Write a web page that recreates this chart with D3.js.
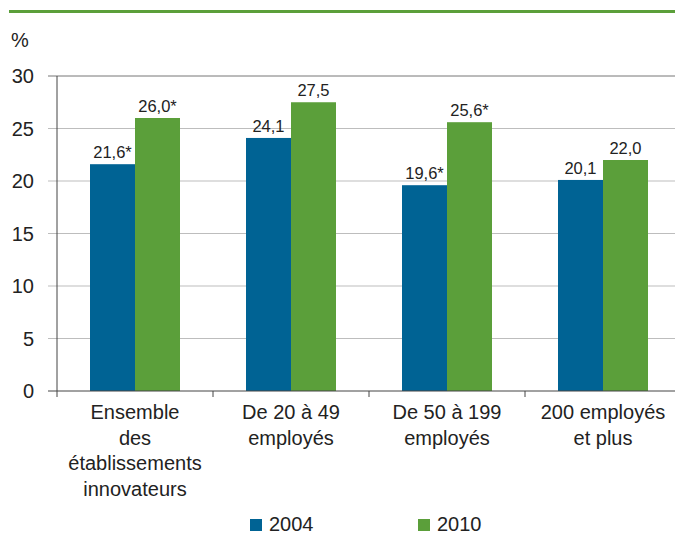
<!DOCTYPE html>
<meta charset="utf-8">
<html>
<head>
    <title>Etablissements innovateurs</title>
</head>
<style type="text/css">
    body{ margin: 0; background: #fff; }
    text{
        font-family: "Liberation Sans", Helvetica, Arial, sans-serif;
        fill: #222;
    }
</style>
<script src="https://cdn.jsdelivr.net/npm/d3@7"></script>
<body>

<script type="text/javascript">
var categories = [
    ["Ensemble", "des", "établissements", "innovateurs"],
    ["De 20 à 49", "employés"],
    ["De 50 à 199", "employés"],
    ["200 employés", "et plus"]
]
var series = ["2004", "2010"]
var values2004 = [21.6, 24.1, 19.6, 20.1]
var values2010 = [26.0, 27.5, 25.6, 22.0]
var labels2004 = ["21,6*", "24,1", "19,6*", "20,1"]
var labels2010 = ["26,0*", "27,5", "25,6*", "22,0"]
var yTicks = [0, 5, 10, 15, 20, 25, 30]

var colors = {"2004": "#006394", "2010": "#5b9f3a"}

var svgWidth = 675
var svgHeight = 535
var margin = {top: 76, left: 57}
var width = 624
var height = 315

var svg = d3.select("body")
    .append("svg")
    .attr("width", svgWidth)
    .attr("height", svgHeight)

// green rule across the top
svg.append("rect")
    .attr("x", 9).attr("y", 10)
    .attr("width", svgWidth - 9).attr("height", 3)
    .attr("fill", "#5b9f3a")

svg.append("text")
    .attr("x", 11).attr("y", 47)
    .style("font-size", "20px")
    .text("%")

var x = d3.scaleBand().domain(d3.range(categories.length)).range([0, width])
var xInner = d3.scaleBand().domain(series).range([x.bandwidth() / 2 - 45, x.bandwidth() / 2 + 45])
var y = d3.scaleLinear().domain([0, 30]).range([height, 0])

var g = svg.append("g")
    .attr("transform", "translate(" + margin.left + "," + margin.top + ")")

// gridlines
g.selectAll(".grid")
    .data(yTicks.filter(d => d > 0))
    .enter().append("line")
    .attr("class", "grid")
    .attr("x1", -9).attr("x2", width)
    .attr("y1", d => y(d)).attr("y2", d => y(d))
    .attr("stroke", d => d == 30 ? "#777" : "#bdbdbd")
    .attr("stroke-width", 1)

// y tick labels
g.selectAll(".ylab")
    .data(yTicks)
    .enter().append("text")
    .attr("class", "ylab")
    .attr("x", -23)
    .attr("y", d => y(d) + 7)
    .attr("text-anchor", "end")
    .style("font-size", "20px")
    .text(d => d)

var data = []
categories.forEach((c, i) => {
    data.push({cat: i, s: "2004", v: values2004[i], label: labels2004[i]})
    data.push({cat: i, s: "2010", v: values2010[i], label: labels2010[i]})
})

g.selectAll(".bar")
    .data(data)
    .enter().append("rect")
    .attr("class", "bar")
    .attr("x", d => x(d.cat) + xInner(d.s))
    .attr("width", xInner.bandwidth())
    .attr("y", d => y(d.v))
    .attr("height", d => height - y(d.v))
    .attr("fill", d => colors[d.s])

g.selectAll(".vlab")
    .data(data)
    .enter().append("text")
    .attr("class", "vlab")
    .attr("x", d => x(d.cat) + xInner(d.s) + xInner.bandwidth() / 2)
    .attr("y", d => y(d.v) - 6)
    .attr("text-anchor", "middle")
    .style("font-size", "16.5px")
    .text(d => d.label)

// axes lines
g.append("line")
    .attr("x1", 0).attr("x2", 0)
    .attr("y1", 0).attr("y2", height + 6)
    .attr("stroke", "#444")
g.append("line")
    .attr("x1", -9).attr("x2", width)
    .attr("y1", height).attr("y2", height)
    .attr("stroke", "#444")
g.selectAll(".xtick")
    .data(d3.range(1, categories.length))
    .enter().append("line")
    .attr("class", "xtick")
    .attr("x1", d => x(d)).attr("x2", d => x(d))
    .attr("y1", height).attr("y2", height + 6)
    .attr("stroke", "#444")

// category labels
var cl = g.selectAll(".clab")
    .data(categories)
    .enter().append("text")
    .attr("class", "clab")
    .attr("text-anchor", "middle")
    .style("font-size", "20px")
cl.selectAll("tspan")
    .data((d, i) => d.map(t => ({t: t, i: i})))
    .enter().append("tspan")
    .attr("x", d => x(d.i) + x.bandwidth() / 2)
    .attr("y", (d, j) => height + 28 + j * 25.5)
    .text(d => d.t)

// legend
var legend = svg.selectAll(".legend")
    .data(series)
    .enter().append("g")
    .attr("class", "legend")
    .attr("transform", (d, i) => "translate(" + (250 + i * 168) + ",519)")
legend.append("rect")
    .attr("width", 12).attr("height", 12)
    .attr("fill", d => colors[d])
legend.append("text")
    .attr("x", 19).attr("y", 12)
    .style("font-size", "20px")
    .text(d => d)
</script>
</body>
</html>
